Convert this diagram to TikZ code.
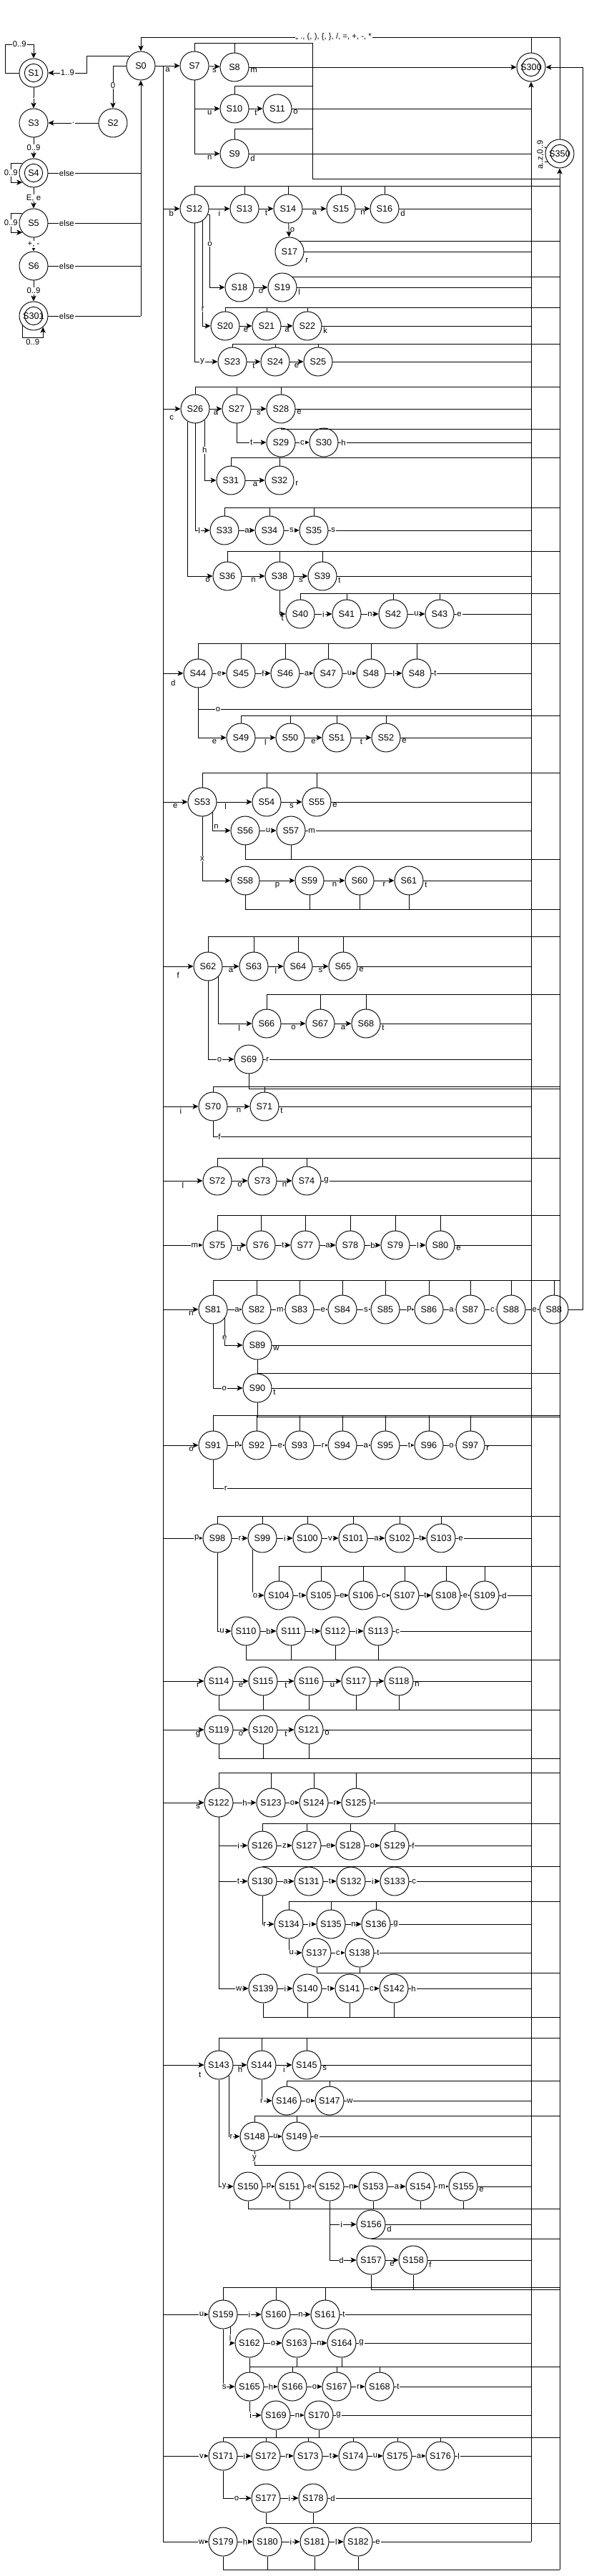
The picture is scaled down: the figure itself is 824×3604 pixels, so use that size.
\documentclass[tikz,border=0pt]{standalone}
\usepackage{fontspec}
\setmainfont{Liberation Sans}
\usetikzlibrary{arrows.meta,calc}
\newcommand{\lblfont}{\fontsize{8.5}{9}\selectfont}
\tikzset{
  st/.style={draw,circle,minimum size=30pt,inner sep=0pt,font=\fontsize{9.5}{10}\selectfont},
  lb/.style={midway,below=0.5pt,font=\lblfont,inner sep=1pt},
  lo/.style={midway,fill=white,font=\lblfont,inner sep=0.6pt},
  fb/.style={pos=0,anchor=north west,font=\lblfont,inner sep=1pt},
  fo/.style={pos=0,anchor=west,xshift=2pt,fill=white,font=\lblfont,inner sep=0.6pt},
}
% lines from the tops / bottoms of a row to the S350 bus
\newcommand{\busup}[3]{\coordinate (yb) at (0,#1);
  \draw (#2.north) |- (b350 |- yb);
  \foreach \n in {#3} {\draw (\n.north) -- (\n.north |- yb);}}
\newcommand{\busdn}[3]{\coordinate (yb) at (0,#1);
  \draw (#2.south) |- (b350 |- yb);
  \foreach \n in {#3} {\draw (\n.south) -- (\n.south |- yb);}}

\begin{document}
\begin{tikzpicture}[x=0.75pt,y=-0.75pt,line width=0.7pt,>={Stealth[length=6pt,width=5.5pt,inset=1.5pt]}]
\useasboundingbox (0,0) rectangle (824,3604);
\coordinate (tr) at (228,3556);
\coordinate (b300) at (743,3556);
\coordinate (b350) at (783,3595);
\coordinate (bR) at (815,94);
\coordinate (topR) at (783,52);
\coordinate (e0) at (197,442);

% states
\foreach \n/\x/\y in {S0/197/92,S2/158/172,S3/47/172,S5/47/312,S6/47/372,S7/272/92,S8/328/94,S10/328/152,S11/388/152,S9/328/215,S17/405/352,S69/348/1482,S89/360/1882,S90/360/1942,S156/519/3112}
  \node[st] (\n) at (\x,\y) {\n};
\foreach \n/\x/\y in {S1/47/102,S4/47/242,S301/47/442,S300/743/94,S350/783/215}
  \node[st] (\n) at (\x,\y) {\n};
\foreach \n in {S1,S4,S301,S300,S350} \draw (\n.center) circle[radius=9.5pt];
\foreach \n/\x in {S12/272,S13/342,S14/403,S15/477,S16/538} \node[st] (\n) at (\x,292) {\n};
\foreach \n/\x in {S18/335,S19/395} \node[st] (\n) at (\x,402) {\n};
\foreach \n/\x in {S20/315,S21/373,S22/430} \node[st] (\n) at (\x,456) {\n};
\foreach \n/\x in {S23/325,S24/385,S25/445} \node[st] (\n) at (\x,506) {\n};
\foreach \n/\x in {S26/273,S27/331,S28/393} \node[st] (\n) at (\x,572) {\n};
\foreach \n/\x in {S29/393,S30/453} \node[st] (\n) at (\x,619) {\n};
\foreach \n/\x in {S31/323,S32/391} \node[st] (\n) at (\x,672) {\n};
\foreach \n/\x in {S33/314,S34/377,S35/439} \node[st] (\n) at (\x,742) {\n};
\foreach \n/\x in {S36/318,S38/391,S39/451} \node[st] (\n) at (\x,806) {\n};
\foreach \n/\x in {S40/420,S41/485,S42/550,S43/615} \node[st] (\n) at (\x,859) {\n};
\foreach \n/\x in {S44/277,S45/337,S46/399,S47/459,S48/519} \node[st] (\n) at (\x,942) {\n};
\node[st] (S48b) at (583,942) {S48};
\foreach \n/\x in {S49/337,S50/406,S51/471,S52/540} \node[st] (\n) at (\x,1032) {\n};
\foreach \n/\x in {S53/283,S54/373,S55/443} \node[st] (\n) at (\x,1122) {\n};
\foreach \n/\x in {S56/343,S57/407} \node[st] (\n) at (\x,1162) {\n};
\foreach \n/\x in {S58/343,S59/433,S60/503,S61/572} \node[st] (\n) at (\x,1232) {\n};
\foreach \n/\x in {S62/291,S63/355,S64/417,S65/480} \node[st] (\n) at (\x,1352) {\n};
\foreach \n/\x in {S66/373,S67/448,S68/512} \node[st] (\n) at (\x,1432) {\n};
\foreach \n/\x in {S70/298,S71/370} \node[st] (\n) at (\x,1548) {\n};
\foreach \n/\x in {S72/304,S73/367,S74/429} \node[st] (\n) at (\x,1652) {\n};
\foreach \n/\x in {S75/304,S76/365,S77/427,S78/490,S79/553,S80/616} \node[st] (\n) at (\x,1742) {\n};
\foreach \n/\x in {S81/298,S82/359,S83/419,S84/479,S85/539,S86/600,S87/658,S88/715} \node[st] (\n) at (\x,1832) {\n};
\node[st] (S88b) at (775,1832) {S88};
\foreach \n/\x in {S91/298,S92/359,S93/419,S94/479,S95/539,S96/600,S97/658} \node[st] (\n) at (\x,2022) {\n};
\foreach \n/\x in {S98/304,S99/367,S100/430,S101/494,S102/559,S103/617} \node[st] (\n) at (\x,2152) {\n};
\foreach \n/\x in {S104/390,S105/449,S106/508,S107/566,S108/624,S109/678} \node[st] (\n) at (\x,2232) {\n};
\foreach \n/\x in {S110/344,S111/407,S112/469,S113/529} \node[st] (\n) at (\x,2282) {\n};
\foreach \n/\x in {S114/306,S115/368,S116/432,S117/498,S118/558} \node[st] (\n) at (\x,2352) {\n};
\foreach \n/\x in {S119/306,S120/368,S121/432} \node[st] (\n) at (\x,2420) {\n};
\foreach \n/\x in {S122/306,S123/379,S124/439,S125/498} \node[st] (\n) at (\x,2522) {\n};
\foreach \n/\x in {S126/367,S127/429,S128/490,S129/552} \node[st] (\n) at (\x,2582) {\n};
\foreach \n/\x in {S130/367,S131/432,S132/491,S133/552} \node[st] (\n) at (\x,2632) {\n};
\foreach \n/\x in {S134/404,S135/463,S136/526} \node[st] (\n) at (\x,2692) {\n};
\foreach \n/\x in {S137/443,S138/503} \node[st] (\n) at (\x,2732) {\n};
\foreach \n/\x in {S139/368,S140/430,S141/489,S142/551} \node[st] (\n) at (\x,2782) {\n};
\foreach \n/\x in {S143/306,S144/366,S145/429} \node[st] (\n) at (\x,2889) {\n};
\foreach \n/\x in {S146/401,S147/461} \node[st] (\n) at (\x,2939) {\n};
\foreach \n/\x in {S148/356,S149/415} \node[st] (\n) at (\x,2989) {\n};
\foreach \n/\x in {S150/347,S151/405,S152/461,S153/522,S154/588,S155/648} \node[st] (\n) at (\x,3059) {\n};
\foreach \n/\x in {S157/519,S158/578} \node[st] (\n) at (\x,3162) {\n};
\foreach \n/\x in {S159/312,S160/386,S161/455} \node[st] (\n) at (\x,3238) {\n};
\foreach \n/\x in {S162/349,S163/415,S164/478} \node[st] (\n) at (\x,3278) {\n};
\foreach \n/\x in {S165/349,S166/409,S167/471,S168/531} \node[st] (\n) at (\x,3339) {\n};
\foreach \n/\x in {S169/386,S170/446} \node[st] (\n) at (\x,3379) {\n};
\foreach \n/\x in {S171/312,S172/372,S173/431,S174/494,S175/556,S176/616} \node[st] (\n) at (\x,3436) {\n};
\foreach \n/\x in {S177/372,S178/438} \node[st] (\n) at (\x,3495) {\n};
\foreach \n/\x in {S179/312,S180/374,S181/440,S182/501} \node[st] (\n) at (\x,3556) {\n};

% main lines
\draw (S0.east) -| (tr);
\draw[->] (b300) -- (S300);
\draw[->] (b350) -- (S350);
\draw[->] (S350.north) -- (topR) -| (S0) node[pos=0.27,fill=white,font=\lblfont,inner sep=0.6pt]{,, ., (, ), \{, \}, /, =, +, -, *};
\draw (S300) -- (S300 |- topR);
\draw[->] (S350.-145) -- ++(-10,0) |- (S350.155) node[pos=0.25,rotate=90,fill=white,font=\lblfont,inner sep=0.6pt]{a..z,0..9};

% numbers
\draw[->] (S0.140) -- ++(-60,0) |- (S1) node[lo,pos=0.75]{1..9};
\draw[->] (S1.west) -- ++(-19,0) -- ++(0,-40) -| (S1) node[lo,pos=0.25]{0..9};
\draw[->] (S1) -- (S3) node[lo]{.};
\draw[->] (S0) -| (S2) node[lo,pos=0.73]{0};
\draw[->] (S2) -- (S3) node[lo]{.};
\draw[->] (S3) -- (S4) node[lo]{0..9};
\draw[->] (S4.140) -- ++(-16,0) |- (S4.-140) node[lo,pos=0.25]{0..9};
\draw[->] (S4) -- (S5) node[lo]{E, e};
\draw[->] (S5.140) -- ++(-16,0) |- (S5.-140) node[lo,pos=0.25]{0..9};
\draw[->] (S5) -- (S6) node[lo]{+, -};
\draw[->] (S6) -- (S301) node[lo]{0..9};
\draw[->] (S301.-140) -- ++(0,17) -| (S301.-50) node[lb,pos=0.25]{0..9};
\foreach \n in {S4,S5,S6,S301} \draw (\n) -- (\n -| e0) node[lo,pos=0.2]{else};
\draw[->] (e0) -- (S0);

% a
\draw[->] (S0) -- (S7) node[lb]{a};
\draw[->] (S7) -- (S8) node[lb]{s};
\draw[->] (S8) -- (S300) node[fb]{m};
\draw[->] (S7) |- (S10) node[lb,pos=0.8]{u};
\draw[->] (S10) -- (S11) node[lb]{t};
\draw (S11) -- (S11 -| b300) node[fb]{o};
\draw[->] (S7) |- (S9) node[lb,pos=0.8]{n};
\draw (S9) -- (S9 -| b300) node[fb]{d};
\coordinate (k7a) at (437,60);
\coordinate (k7b) at (437,250);
\draw (S7.north) |- (k7a) -- (k7b) -- (k7b -| b350);
\draw (S8.north) -- (S8.north |- k7a);
\draw (S10.north) |- (437,120);
\draw (S9.north) |- (437,180);

% b
\draw[->] (S12 -| tr) -- (S12) node[lb]{b};
\foreach \a/\b/\l in {S12/S13/i,S13/S14/t,S14/S15/a,S15/S16/n} \draw[->] (\a) -- (\b) node[lb]{\l};
\draw (S16) -- (S16 -| b300) node[fb]{d};
\busup{260}{S12}{S13,S14,S15,S16}
\draw[->] (S14) -- (S17) node[midway,right,font=\lblfont,inner sep=1pt]{o};
\draw (S17) -- (S17 -| b300) node[fb,yshift=-6pt]{r};
\draw (S17.45) -- (S17.45 -| b350);
\draw[->] (S12.-25) -- ++(3,0) |- (S18) node[lo,pos=0.2]{o};
\draw[->] (S18) -- (S19) node[lb]{o};
\draw (S19) -- (S19 -| b300) node[fb]{l};
\draw (S19.45) -- (S19.45 -| b350);
\draw[->] (S12.-55) |- (S20) node[lo,pos=0.42]{r};
\foreach \a/\b/\l in {S20/S21/e,S21/S22/a} \draw[->] (\a) -- (\b) node[lb]{\l};
\draw (S22) -- (S22 -| b300) node[fb]{k};
\busup{430}{S20}{S21,S22}
\draw[->] (S12) |- (S23) node[lo,pos=0.67]{y};
\foreach \a/\b/\l in {S23/S24/t,S24/S25/e} \draw[->] (\a) -- (\b) node[lb]{\l};
\draw (S25) -- (S25 -| b300);
\busup{481}{S23}{S24,S25}

% c
\draw[->] (S26 -| tr) -- (S26) node[lb,yshift=-5pt]{c};
\foreach \a/\b/\l in {S26/S27/a,S27/S28/s} \draw[->] (\a) -- (\b) node[lb]{\l};
\draw (S28) -- (S28 -| b300) node[fb]{e};
\busup{541}{S26}{S27,S28}
\draw[->] (S27) |- (S29) node[lo,pos=0.75]{t};
\draw[->] (S29) -- (S30) node[lo]{c};
\draw (S30) -- (S30 -| b300) node[fo]{h};
\busup{600}{S29}{S30}
\draw[->] (S26.-50) |- (S31) node[lo,pos=0.25]{h};
\draw[->] (S31) -- (S32) node[lb]{a};
\node[font=\lblfont,anchor=north west,inner sep=1pt] (r32) at (S32.east) {r};
\busup{640}{S31}{S32}
\draw[->] (S26) |- (S33) node[lo,pos=0.64]{l};
\foreach \a/\b/\l in {S33/S34/a,S34/S35/s} \draw[->] (\a) -- (\b) node[lo]{\l};
\draw (S35) -- (S35 -| b300) node[fo]{s};
\busup{710}{S33}{S34,S35}
\draw[->] (S26.-120) |- (S36) node[lb,pos=0.9]{o};
\foreach \a/\b/\l in {S36/S38/n,S38/S39/s} \draw[->] (\a) -- (\b) node[lb]{\l};
\draw (S39) -- (S39 -| b300) node[fb]{t};
\busup{771}{S36}{S38,S39}
\draw[->] (S38) |- (S40) node[lb,pos=0.75]{t};
\foreach \a/\b/\l in {S40/S41/i,S41/S42/n,S42/S43/u} \draw[->] (\a) -- (\b) node[lo]{\l};
\draw (S43) -- (S43 -| b300) node[fo]{e};
\busup{830}{S40}{S41,S42,S43}

% d
\draw[->] (S44 -| tr) -- (S44) node[lb,yshift=-5pt]{d};
\foreach \a/\b/\l in {S44/S45/e,S45/S46/f,S46/S47/a,S47/S48/u,S48/S48b/l} \draw[->] (\a) -- (\b) node[lo]{\l};
\draw (S48b) -- (S48b -| b300) node[fo]{t};
\busup{900}{S44}{S45,S46,S47,S48,S48b}
\coordinate (o44) at (743,992);
\draw (S44) |- (o44) node[lo,pos=0.53]{o};
\draw[->] (S44) |- (S49) node[lb,pos=0.79]{e};
\foreach \a/\b/\l in {S49/S50/l,S50/S51/e,S51/S52/t} \draw[->] (\a) -- (\b) node[lb]{\l};
\draw (S52) -- (S52 -| b300) node[fb]{e};
\busup{1001}{S49}{S50,S51,S52}

% e
\draw[->] (S53 -| tr) -- (S53) node[lb]{e};
\draw[->] (S53) -- (S54) node[lb,pos=0.25]{l};
\draw[->] (S54) -- (S55) node[lb]{s};
\draw (S55) -- (S55 -| b300) node[fb]{e};
\busup{1081}{S53}{S54,S55}
\draw[->] (S53.-45) |- (S56) node[pos=0.4,right,font=\lblfont,inner sep=1pt]{n};
\draw[->] (S56) -- (S57) node[lo]{u};
\draw (S57) -- (S57 -| b300) node[fo]{m};
\busdn{1202}{S56}{S57}
\draw[->] (S53) |- (S58) node[lo,pos=0.33]{x};
\foreach \a/\b/\l in {S58/S59/p,S59/S60/n,S60/S61/r} \draw[->] (\a) -- (\b) node[lb]{\l};
\draw (S61) -- (S61 -| b300) node[fb]{t};
\busdn{1272}{S58}{S59,S60,S61}

% f
\draw[->] (S62 -| tr) -- (S62) node[lb,yshift=-4pt]{f};
\foreach \a/\b/\l in {S62/S63/a,S63/S64/l,S64/S65/s} \draw[->] (\a) -- (\b) node[lb]{\l};
\draw (S65) -- (S65 -| b300) node[fb]{e};
\busup{1310}{S62}{S63,S64,S65}
\draw[->] (S62.-45) |- (S66) node[lb,pos=0.81]{l};
\foreach \a/\b/\l in {S66/S67/o,S67/S68/a} \draw[->] (\a) -- (\b) node[lb]{\l};
\draw (S68) -- (S68 -| b300) node[fb]{t};
\busup{1391}{S66}{S67,S68}
\draw[->] (S62) |- (S69) node[lo,pos=0.72]{o};
\draw (S69) -- (S69 -| b300) node[fo]{r};
\coordinate (c69) at (783,1523);
\draw (S69.south) |- (c69);

% i
\draw[->] (S70 -| tr) -- (S70) node[lb]{i};
\draw[->] (S70) -- (S71) node[lb]{n};
\draw (S71) -- (S71 -| b300) node[fb]{t};
\busup{1520}{S70}{S71}
\coordinate (f70) at (743,1590);
\draw (S70) |- (f70) node[lo,pos=0.51]{f};

% l
\draw[->] (S72 -| tr) -- (S72) node[lb]{l};
\foreach \a/\b/\l in {S72/S73/o,S73/S74/n} \draw[->] (\a) -- (\b) node[lb]{\l};
\draw (S74) -- (S74 -| b300) node[fo]{g};
\busup{1620}{S72}{S73,S74}

% m
\draw[->] (S75 -| tr) -- (S75) node[lo,pos=0.8]{m};
\draw[->] (S75) -- (S76) node[lb]{u};
\foreach \a/\b/\l in {S76/S77/t,S77/S78/a,S78/S79/b,S79/S80/l} \draw[->] (\a) -- (\b) node[lo]{\l};
\draw (S80) -- (S80 -| b300) node[fb]{e};
\busup{1700}{S75}{S76,S77,S78,S79,S80}

% n
\draw[->] (S81 -| tr) -- (S81) node[lb,pos=0.8]{n};
\foreach \a/\b/\l in {S81/S82/a,S82/S83/m,S83/S84/e,S84/S85/s,S85/S86/p,S86/S87/a,S87/S88/c,S88/S88b/e} \draw[->] (\a) -- (\b) node[lo,pos=0.65]{\l};
\draw[->] (S88b) -| (bR) -- (S300);
\busup{1791}{S81}{S82,S83,S84,S85,S86,S87,S88,S88b}
\draw[->] (S81.-37) |- (S89) node[lo,pos=0.36]{e};
\draw (S89) -- (S89 -| b300) node[fb]{w};
\draw (S89) -- (S90);
\draw (S90.north) -- (S90.north -| b350);
\draw[->] (S81) |- (S90) node[lo,pos=0.69]{o};
\draw (S90) -- (S90 -| b300) node[fb]{t};
\coordinate (c90) at (783,1982);
\draw (S90.south) |- (c90);

% o
\draw[->] (S91 -| tr) -- (S91) node[lb,pos=0.8]{o};
\foreach \a/\b/\l in {S91/S92/p,S92/S93/e,S93/S94/r,S94/S95/a,S95/S96/t,S96/S97/o} \draw[->] (\a) -- (\b) node[lo,pos=0.65]{\l};
\draw (S97) -- (S97 -| b300) node[fb]{r};
\busup{1980}{S91}{S92,S93,S94,S95,S96,S97}
\coordinate (r91) at (743,2082);
\draw (S91) |- (r91) node[lo,pos=0.52]{r};

% p
\draw[->] (S98 -| tr) -- (S98) node[lo,pos=0.85]{p};
\foreach \a/\b/\l in {S98/S99/r,S99/S100/i,S100/S101/v,S101/S102/a,S102/S103/t} \draw[->] (\a) -- (\b) node[lo]{\l};
\draw (S103) -- (S103 -| b300) node[fo]{e};
\busup{2121}{S98}{S99,S100,S101,S102,S103}
\draw[->] (S99.-130) |- (S104) node[lo,pos=0.6]{o};
\foreach \a/\b/\l in {S104/S105/t,S105/S106/e,S106/S107/c,S107/S108/t,S108/S109/e} \draw[->] (\a) -- (\b) node[lo]{\l};
\draw (S109) -- (S109 -| b300) node[fo]{d};
\busup{2191}{S104}{S105,S106,S107,S108,S109}
\draw[->] (S98) |- (S110) node[lo,pos=0.67]{u};
\foreach \a/\b/\l in {S110/S111/b,S111/S112/l,S112/S113/i} \draw[->] (\a) -- (\b) node[lo]{\l};
\draw (S113) -- (S113 -| b300) node[fo]{c};
\busdn{2322}{S110}{S111,S112,S113}

% r
\draw[->] (S114 -| tr) -- (S114) node[lb,pos=0.85]{r};
\foreach \a/\b/\l in {S114/S115/e,S115/S116/t,S116/S117/u,S117/S118/r} \draw[->] (\a) -- (\b) node[lb]{\l};
\draw (S118) -- (S118 -| b300) node[fb]{n};
\busdn{2392}{S114}{S115,S116,S117,S118}

% g
\draw[->] (S119 -| tr) -- (S119) node[lb,pos=0.85]{g};
\foreach \a/\b/\l in {S119/S120/o,S120/S121/t} \draw[->] (\a) -- (\b) node[lb]{\l};
\draw (S121) -- (S121 -| b300) node[fb]{o};
\busdn{2460}{S119}{S120,S121}

% s
\draw[->] (S122 -| tr) -- (S122) node[lb,pos=0.85]{s};
\foreach \a/\b/\l in {S122/S123/h,S123/S124/o,S124/S125/r} \draw[->] (\a) -- (\b) node[lo]{\l};
\draw (S125) -- (S125 -| b300) node[fo]{t};
\busup{2480}{S122}{S123,S124,S125}
\draw[->] (S122) |- (S126) node[lo,pos=0.84]{i};
\foreach \a/\b/\l in {S126/S127/z,S127/S128/e,S128/S129/o} \draw[->] (\a) -- (\b) node[lo]{\l};
\draw (S129) -- (S129 -| b300) node[fo]{f};
\busup{2551}{S126}{S127,S128,S129}
\draw[->] (S122) |- (S130) node[lo,pos=0.84]{t};
\foreach \a/\b/\l in {S130/S131/a,S131/S132/t,S132/S133/i} \draw[->] (\a) -- (\b) node[lo]{\l};
\draw (S133) -- (S133 -| b300) node[fo]{c};
\busup{2611}{S130}{S131,S132,S133}
\draw[->] (S130) |- (S134) node[lo,pos=0.6]{r};
\foreach \a/\b/\l in {S134/S135/i,S135/S136/n} \draw[->] (\a) -- (\b) node[lo]{\l};
\draw (S136) -- (S136 -| b300) node[fo]{g};
\busup{2660}{S134}{S135,S136}
\draw[->] (S134) |- (S137) node[lo,pos=0.6]{u};
\draw[->] (S137) -- (S138) node[lo]{c};
\draw (S138) -- (S138 -| b300) node[fo]{t};
\busdn{2760}{S137}{S138}
\draw[->] (S122) |- (S139) node[lo,pos=0.84]{w};
\foreach \a/\b/\l in {S139/S140/i,S140/S141/t,S141/S142/c} \draw[->] (\a) -- (\b) node[lo]{\l};
\draw (S142) -- (S142 -| b300) node[fo]{h};
\busdn{2822}{S139}{S140,S141,S142}

% t
\draw[->] (S143 -| tr) -- (S143) node[lb,pos=0.9,yshift=-6pt]{t};
\foreach \a/\b/\l in {S143/S144/h,S144/S145/i} \draw[->] (\a) -- (\b) node[lb]{\l};
\draw (S145) -- (S145 -| b300) node[fb]{s};
\busup{2851}{S143}{S144,S145}
\draw[->] (S144) |- (S146) node[lo,pos=0.5]{r};
\draw[->] (S146) -- (S147) node[lo]{o};
\draw (S147) -- (S147 -| b300) node[fo]{w};
\busup{2911}{S146}{S147}
\draw[->] (S143.-45) |- (S148) node[lo,pos=0.6]{r};
\draw[->] (S148) -- (S149) node[lo]{u};
\draw (S149) -- (S149 -| b300) node[fo]{e};
\busup{2960}{S148}{S149}
\coordinate (y148) at (743,3029);
\draw (S148) |- (y148) node[lo,pos=0.25]{y};
\draw[->] (S143) |- (S150) node[lo,pos=0.69]{y};
\foreach \a/\b/\l in {S150/S151/p,S151/S152/e,S152/S153/n,S153/S154/a,S154/S155/m} \draw[->] (\a) -- (\b) node[lo]{\l};
\draw (S155) -- (S155 -| b300) node[fb]{e};
\busdn{3090}{S150}{S151,S153,S154,S155}
\draw[->] (S152) |- (S156) node[lo,pos=0.72]{i};
\draw (S156) -- (S156 -| b300) node[fb]{d};
\draw (S156.south) -- (S156.south -| b350);
\draw[->] (S152) |- (S157) node[lo,pos=0.72]{d};
\draw[->] (S157) -- (S158) node[lb]{e};
\draw (S158) -- (S158 -| b300) node[fb]{f};
\busdn{3203}{S157}{S158}

% u
\draw[->] (S159 -| tr) -- (S159) node[lo,pos=0.85]{u};
\foreach \a/\b/\l in {S159/S160/i,S160/S161/n} \draw[->] (\a) -- (\b) node[lo]{\l};
\draw (S161) -- (S161 -| b300) node[fo]{t};
\busup{3200}{S159}{S160,S161}
\draw[->] (S159.-60) |- (S162) node[lo,pos=0.35]{l};
\foreach \a/\b/\l in {S162/S163/o,S163/S164/n} \draw[->] (\a) -- (\b) node[lo]{\l};
\draw (S164) -- (S164 -| b300) node[fo]{g};
\busdn{3311}{S162}{S163,S164}
\foreach \n in {S165,S166,S167,S168} \draw (\n.north) -- (\n.north |- yb);
\draw[->] (S159) |- (S165) node[lo,pos=0.55]{s};
\foreach \a/\b/\l in {S165/S166/h,S166/S167/o,S167/S168/r} \draw[->] (\a) -- (\b) node[lo]{\l};
\draw (S168) -- (S168 -| b300) node[fo]{t};
\draw[->] (S165) |- (S169) node[lo,pos=0.55]{i};
\draw[->] (S169) -- (S170) node[lo]{n};
\draw (S170) -- (S170 -| b300) node[fo]{g};

% v
\draw[->] (S171 -| tr) -- (S171) node[lo,pos=0.85]{v};
\foreach \a/\b/\l in {S171/S172/i,S172/S173/r,S173/S174/t,S174/S175/u,S175/S176/a} \draw[->] (\a) -- (\b) node[lo]{\l};
\draw (S176) -- (S176 -| b300) node[fo]{l};
\busup{3410}{S171}{S172,S173,S174,S175,S176}
\foreach \n in {S169,S170} \draw (\n.south) -- (\n.south |- yb);
\draw[->] (S171) |- (S177) node[lo,pos=0.74]{o};
\draw[->] (S177) -- (S178) node[lo]{i};
\draw (S178) -- (S178 -| b300) node[fo]{d};
\busdn{3530}{S177}{S178}

% w
\draw[->] (S179 -| tr) -- (S179) node[lo,pos=0.85]{w};
\foreach \a/\b/\l in {S179/S180/h,S180/S181/i,S181/S182/l} \draw[->] (\a) -- (\b) node[lo]{\l};
\draw (S182) -- (S182 -| b300) node[fo]{e};
\busdn{3595}{S179}{S180,S181,S182}
\end{tikzpicture}
\end{document}
